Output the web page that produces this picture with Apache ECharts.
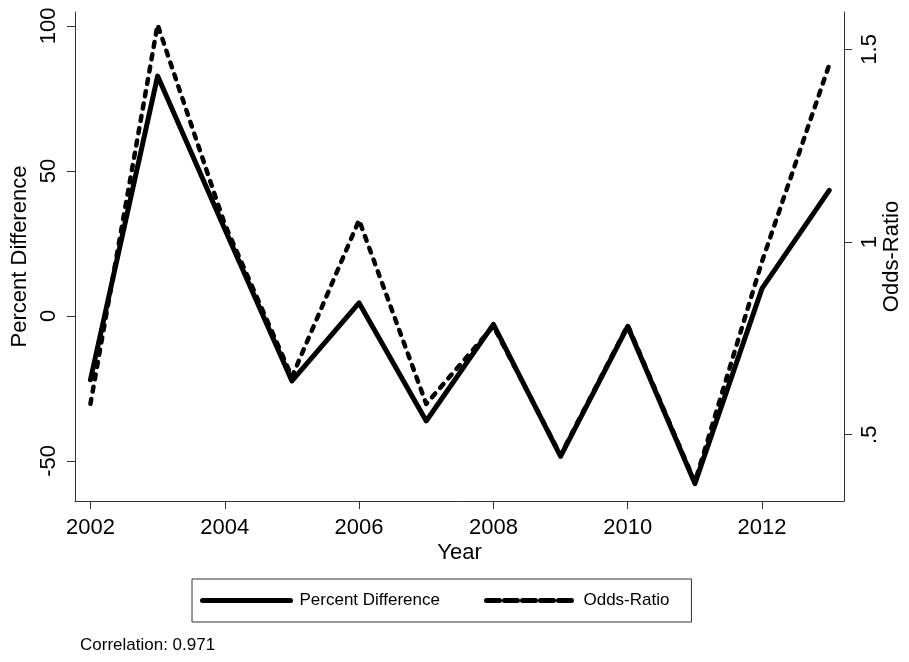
<!DOCTYPE html>
<html>
<head>
<meta charset="utf-8">
<script src="https://cdn.jsdelivr.net/npm/echarts@6/dist/echarts.min.js"></script>
<style>
  html, body { margin: 0; padding: 0; background: #fff; }
</style>
</head>
<body>
<div id="chart" style="width: 909px; height: 662px;"></div>
<script>
// values
const years = [2002, 2003, 2004, 2005, 2006, 2007, 2008, 2009, 2010, 2011, 2012, 2013];
const pctDiff = [-22, 82.7, 30, -22.4, 4.5, -36.2, -2.9, -48.4, -3.6, -57.8, 9.5, 43.3];
const oddsRatio = [0.58, 1.564, 1.046, 0.65, 1.057, 0.58, 0.782, 0.447, 0.784, 0.377, 0.95, 1.46];
const yearTicks = [2002, 2004, 2006, 2008, 2010, 2012];
const pctTicks = [-50, 0, 50, 100];
const orTicks = [0.5, 1, 1.5];
const correlationText = 'Correlation: 0.971';

const font = 'Liberation Sans, Arial, sans-serif';
const axisColor = '#333';

const chart = echarts.init(document.getElementById('chart'));
const option = {
  animation: false,
  textStyle: { fontFamily: font, color: '#000' },
  grid: { left: 75, right: 65, top: 12, bottom: 161, outerBoundsMode: 'none', containLabel: false },
  legend: {
    left: 192,
    top: 579,
    orient: 'horizontal',
    itemWidth: 88,
    itemHeight: 14,
    itemGap: 44,
    padding: [13, 22, 13, 8],
    borderColor: '#333',
    borderWidth: 1,
    itemStyle: { color: 'transparent', borderWidth: 0, opacity: 0 },
    textStyle: { fontSize: 17, color: '#000', fontFamily: font, padding: [0, 0, 0, 4] },
    data: [
      { name: 'Percent Difference', lineStyle: { width: 5, type: 'solid', cap: 'round' } },
      { name: 'Odds-Ratio', lineStyle: { width: 5, type: [13, 5], cap: 'round' } }
    ]
  },
  xAxis: {
    type: 'value',
    min: 2001.77,
    max: 2013.22,
    name: 'Year',
    nameLocation: 'middle',
    nameGap: 41,
    nameMoveOverlap: false,
    nameTextStyle: { fontSize: 22, color: '#000' },
    splitLine: { show: false },
    axisLine: { show: true, onZero: false, lineStyle: { color: axisColor, width: 1 } },
    axisTick: { show: true, length: 8, customValues: yearTicks, lineStyle: { color: axisColor } },
    axisLabel: { customValues: yearTicks, fontSize: 22, color: '#000', margin: 16, formatter: v => String(v) }
  },
  yAxis: [
    {
      type: 'value',
      position: 'left',
      min: -63.8,
      max: 104.8,
      name: 'Percent Difference',
      nameLocation: 'middle',
      nameGap: 44,
      nameMoveOverlap: false,
      nameTextStyle: { fontSize: 22, color: '#000' },
      splitLine: { show: false },
      axisLine: { show: true, lineStyle: { color: axisColor, width: 1 } },
      axisTick: { show: true, length: 8, customValues: pctTicks, lineStyle: { color: axisColor } },
      axisLabel: { customValues: pctTicks, rotate: 90, fontSize: 22, color: '#000', margin: 15 }
    },
    {
      type: 'value',
      position: 'right',
      min: 0.328,
      max: 1.597,
      name: 'Odds-Ratio',
      nameLocation: 'middle',
      nameGap: 37,
      nameMoveOverlap: false,
      nameTextStyle: { fontSize: 22, color: '#000' },
      splitLine: { show: false },
      axisLine: { show: true, lineStyle: { color: axisColor, width: 1 } },
      axisTick: { show: true, length: 8, customValues: orTicks, lineStyle: { color: axisColor } },
      axisLabel: {
        customValues: orTicks, rotate: 90, fontSize: 22, color: '#000', margin: 15,
        formatter: v => (v === 0.5 ? '.5' : String(v))
      }
    }
  ],
  graphic: [
    {
      type: 'text',
      left: 80,
      top: 637,
      style: { text: correlationText, font: '17px ' + font, fill: '#000' }
    }
  ],
  series: [
    {
      name: 'Percent Difference',
      type: 'line',
      yAxisIndex: 0,
      data: years.map((y, i) => [y, pctDiff[i]]),
      symbol: 'none',
      lineStyle: { color: '#000', width: 5, cap: 'round', join: 'round' },
      itemStyle: { color: '#000' }
    },
    {
      name: 'Odds-Ratio',
      type: 'line',
      yAxisIndex: 1,
      data: years.map((y, i) => [y, oddsRatio[i]]),
      symbol: 'none',
      lineStyle: { color: '#000', width: 4.5, type: [5, 7.5], cap: 'round', join: 'round' },
      itemStyle: { color: '#000' }
    }
  ]
};
chart.setOption(option);
</script>
</body>
</html>
